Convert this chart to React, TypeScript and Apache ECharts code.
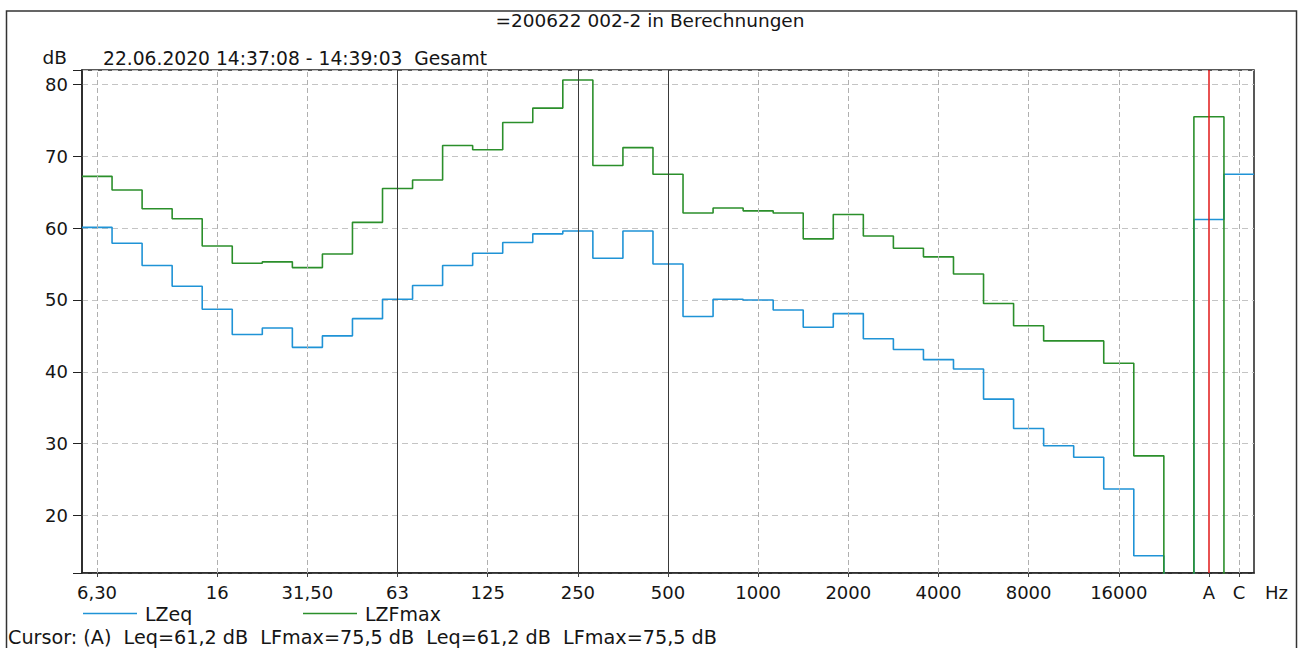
import React, { useEffect, useRef } from "react";
import * as echarts from "echarts";

// Third-octave bands (plus an empty gap band) and the A / C overall levels
const bands = [
  "6,30", "8", "10", "12,5", "16", "20", "25", "31,50", "40", "50",
  "63", "80", "100", "125", "160", "200", "250", "315", "400", "500",
  "630", "800", "1000", "1250", "1600", "2000", "2500", "3150", "4000", "5000",
  "6300", "8000", "10000", "12500", "16000", "20000", "", "A", "C",
];
const tickLabels = ["6,30", "16", "31,50", "63", "125", "250", "500", "1000", "2000", "4000", "8000", "16000", "A", "C"];
const solidGridLabels = ["63", "250", "500"];
const cursorBand = "A";

// value used for bands below the displayed range (drawn clipped at the bottom)
const BELOW = 0;

const lzeq = [
  60.1, 57.9, 54.8, 51.9, 48.7, 45.2, 46.1, 43.4, 45.0, 47.4,
  50.1, 52.0, 54.8, 56.5, 58.0, 59.2, 59.6, 55.8, 59.6, 55.0,
  47.7, 50.1, 50.0, 48.6, 46.2, 48.1, 44.6, 43.1, 41.7, 40.4,
  36.2, 32.1, 29.7, 28.1, 23.7, 14.4, BELOW, 61.2, 67.5,
];
const lzfmax = [
  67.2, 65.3, 62.7, 61.3, 57.5, 55.1, 55.3, 54.5, 56.4, 60.8,
  65.5, 66.7, 71.5, 70.9, 74.7, 76.7, 80.6, 68.7, 71.2, 67.5,
  62.1, 62.8, 62.4, 62.1, 58.5, 61.9, 58.9, 57.2, 56.0, 53.6,
  49.5, 46.4, 44.3, 44.3, 41.2, 28.3, BELOW, 75.5, BELOW,
];

const titleText = "=200622 002-2 in Berechnungen";
const periodText = "22.06.2020 14:37:08 - 14:39:03  Gesamt";
const cursorText = "Cursor: (A)  Leq=61,2 dB  LFmax=75,5 dB  Leq=61,2 dB  LFmax=75,5 dB";

const FONT = "DejaVu Sans";
const TXT = "#151515";
const BLUE = "#1f93d6";
const GREEN = "#2b8f2b";

function stepData(vals: number[]) {
  const pts: [number, number][] = vals.map((v, i) => [i, v]);
  pts.push([vals.length, vals[vals.length - 1]]);
  return pts;
}

export default function App() {
  const ref = useRef<HTMLDivElement>(null);

  useEffect(() => {
    document.body.style.margin = "0";
    const chart = echarts.init(ref.current!, null, { renderer: "svg" });

    const gridLines = tickLabels.map((lbl) => {
      const i = bands.indexOf(lbl);
      let lineStyle: any = { color: "#b0b0b0", width: 1, type: [5, 3] };
      if (solidGridLabels.includes(lbl)) lineStyle = { color: "#3a3a3a", width: 1, type: "solid" };
      if (lbl === cursorBand) lineStyle = { color: "#e01818", width: 1.5, type: "solid" };
      return { xAxis: i + 0.5, lineStyle };
    });

    const showLabel = (_: number, v: string) => tickLabels.includes(v);

    const legendCommon = {
      top: 604, padding: 0, itemWidth: 54, itemHeight: 1.6, selectedMode: false,
      textStyle: { fontSize: 19, fontFamily: FONT, color: TXT, padding: [0, 0, 0, 3] },
    };

    chart.setOption({
      animation: false,
      title: [
        {
          text: titleText, left: "center", top: 10, padding: 0,
          textStyle: { fontSize: 18.5, fontWeight: "normal", fontFamily: FONT, color: TXT, lineHeight: 20 },
        },
        {
          text: periodText, left: 103, top: 48, padding: 0,
          textStyle: { fontSize: 18.7, fontWeight: "normal", fontFamily: FONT, color: TXT, lineHeight: 20 },
        },
      ],
      legend: [
        { ...legendCommon, left: 83, data: [{ name: "LZeq", icon: "rect", itemStyle: { color: BLUE } }] },
        { ...legendCommon, left: 303, data: [{ name: "LZFmax", icon: "rect", itemStyle: { color: GREEN } }] },
      ],
      grid: {
        left: 82, top: 70, width: 1172, height: 503,
        show: true, borderColor: "#222", borderWidth: 1.5, backgroundColor: "transparent",
      },
      xAxis: [
        {
          type: "category",
          data: bands,
          boundaryGap: true,
          position: "bottom",
          name: "Hz",
          nameLocation: "end",
          nameGap: 11,
          nameTextStyle: { fontSize: 18, fontFamily: FONT, color: TXT, verticalAlign: "top", padding: [10, 0, 0, 0] },
          axisLine: { show: true, lineStyle: { color: "#222", width: 1.5 } },
          axisTick: { show: true, alignWithLabel: true, interval: showLabel, length: 4, lineStyle: { color: "#444" } },
          axisLabel: { interval: showLabel, fontSize: 18, fontFamily: FONT, color: TXT, margin: 10 },
          splitLine: { show: false },
        },
        {
          type: "value",
          min: 0,
          max: bands.length,
          show: false,
        },
      ],
      yAxis: {
        type: "value",
        min: 12,
        max: 82,
        splitNumber: 7,
        name: "dB",
        nameLocation: "end",
        nameGap: 3,
        nameTextStyle: { fontSize: 18.5, fontFamily: FONT, color: TXT, align: "right", padding: [0, 15, 0, 0] },
        axisLine: { show: true, lineStyle: { color: "#222", width: 1.5 } },
        axisTick: { show: true, length: 9, lineStyle: { color: "#222" } },
        axisLabel: {
          fontSize: 18, fontFamily: FONT, color: TXT, margin: 14,
          formatter: (v: number) => (v % 10 === 0 ? String(v) : ""),
        },
        splitLine: { show: true, lineStyle: { color: "#c4c4c4", width: 1, type: [6, 4] } },
      },
      series: [
        {
          name: "LZeq",
          type: "line",
          xAxisIndex: 1,
          step: "end",
          symbol: "none",
          data: stepData(lzeq),
          lineStyle: { color: BLUE, width: 1.6 },
          itemStyle: { color: BLUE },
          markLine: { silent: true, symbol: ["none", "none"], label: { show: false }, data: gridLines },
          z: 2,
        },
        {
          name: "LZFmax",
          type: "line",
          xAxisIndex: 1,
          step: "end",
          symbol: "none",
          data: stepData(lzfmax),
          lineStyle: { color: GREEN, width: 1.6 },
          itemStyle: { color: GREEN },
          z: 3,
        },
      ],
      graphic: [
        {
          type: "rect", silent: true,
          shape: { x: 6.5, y: 11, width: 1290, height: 700 },
          style: { fill: "none", stroke: "#333", lineWidth: 1.5 },
        },
        {
          type: "text", left: 8, top: 628, silent: true,
          style: { text: cursorText, fontSize: 19.2, fontFamily: FONT, fill: TXT },
        },
      ],
    });

    return () => chart.dispose();
  }, []);

  return <div ref={ref} style={{ width: 1300, height: 648 }} />;
}
